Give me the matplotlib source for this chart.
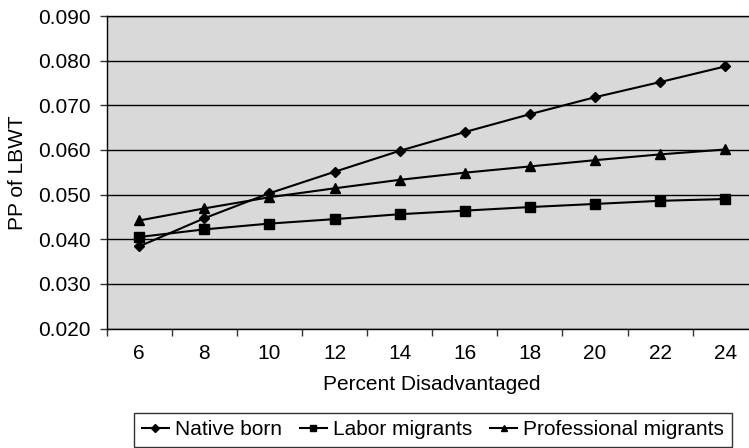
import numpy as np
import matplotlib.pyplot as plt
from matplotlib.ticker import FixedLocator, NullFormatter, FixedFormatter

plt.rcParams['font.family'] = ['Liberation Sans', 'DejaVu Sans']

# Data
pct_disadvantaged = [6, 8, 10, 12, 14, 16, 18, 20, 22, 24]
native_born = [0.0384, 0.0447, 0.0503, 0.0551, 0.0598, 0.0640, 0.0680, 0.0718, 0.0752, 0.0787]
labor_migrants = [0.0405, 0.0422, 0.0435, 0.0445, 0.0456, 0.0464, 0.0472, 0.0479, 0.0486, 0.0490]
professional_migrants = [0.0442, 0.0469, 0.0494, 0.0514, 0.0533, 0.0549, 0.0563, 0.0577, 0.0590, 0.0601]
y_ticks = [0.020, 0.030, 0.040, 0.050, 0.060, 0.070, 0.080, 0.090]

fs = 15
fig = plt.figure(figsize=(7.49, 4.48), dpi=100)
# plot area runs slightly past the right edge of the image, as in the original
ax = fig.add_axes([106.7 / 749, 1 - 328.5 / 448, 651 / 749, 312.5 / 448])
ax.set_facecolor('#d9d9d9')

x = np.arange(len(pct_disadvantaged))
ax.plot(x, native_born, color='black', lw=1.5, marker='D', ms=5.5, label='Native born')
ax.plot(x, labor_migrants, color='black', lw=1.5, marker='s', ms=6.5, label='Labor migrants')
ax.plot(x, professional_migrants, color='black', lw=1.5, marker='^', ms=7, label='Professional migrants')

ax.set_xlim(-0.5, len(x) - 0.5)
ax.set_ylim(0.020, 0.090)

# category axis: tick marks between categories, labels in the middle
ax.xaxis.set_major_locator(FixedLocator(np.arange(-0.5, len(x), 1.0)))
ax.xaxis.set_major_formatter(NullFormatter())
ax.xaxis.set_minor_locator(FixedLocator(x))
ax.xaxis.set_minor_formatter(FixedFormatter([str(v) for v in pct_disadvantaged]))
ax.tick_params(axis='x', which='major', direction='out', length=5, width=1, color='#333333')
ax.tick_params(axis='x', which='minor', length=0, pad=11.5, labelsize=fs)

ax.set_yticks(y_ticks)
ax.set_yticklabels([f'{v:.3f}' for v in y_ticks])
ax.tick_params(axis='y', direction='out', length=5, width=1, pad=6.5, labelsize=fs, color='#333333')
ax.yaxis.grid(True, color='black', lw=1)
ax.set_axisbelow(True)

for side in ['top', 'left', 'bottom', 'right']:
    ax.spines[side].set_color('black')
    ax.spines[side].set_linewidth(1)

ax.set_xlabel('Percent Disadvantaged', fontsize=fs, labelpad=8.5)
ax.set_ylabel('PP of LBWT', fontsize=fs, labelpad=8)

leg = fig.legend(loc='upper center', bbox_to_anchor=(433 / 749, 1 - 413 / 448), ncol=3,
                 fontsize=fs, frameon=True, fancybox=False, edgecolor='black',
                 handlelength=1.3, handletextpad=0.3, columnspacing=0.85,
                 borderpad=0.35, borderaxespad=0, markerscale=0.7)
leg.get_frame().set_linewidth(1)

fig.savefig('out.png', dpi=100)
